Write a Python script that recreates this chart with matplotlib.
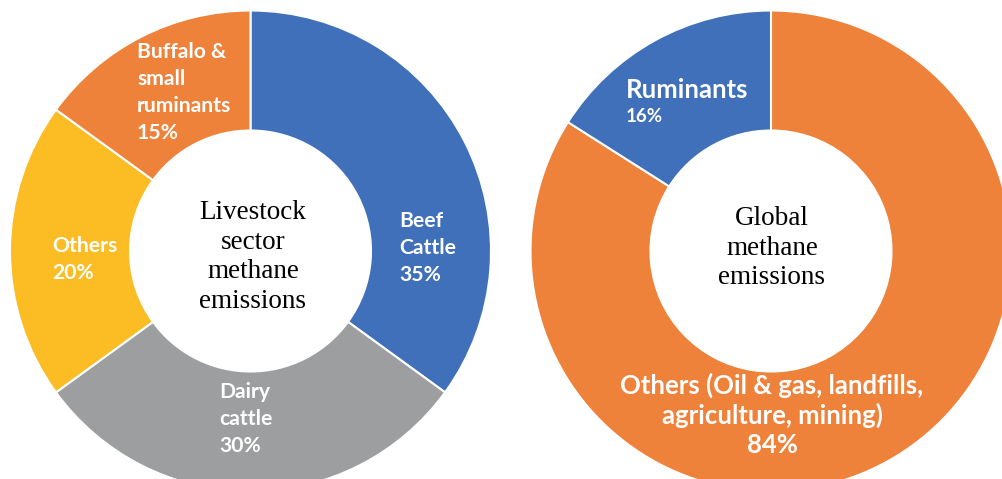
import matplotlib.pyplot as plt

# livestock sector methane emissions (left donut)
livestock_names = ['Beef\nCattle', 'Dairy\ncattle', 'Others', 'Buffalo &\nsmall\nruminants']
livestock_share = [35, 30, 20, 15]
livestock_colors = ['#3F70B9', '#9C9E9F', '#FBBC24', '#EE823B']

# global methane emissions (right donut)
global_names = ['Others (Oil & gas, landfills,\nagriculture, mining)', 'Ruminants']
global_share = [84, 16]
global_colors = ['#EE823B', '#3F70B9']

W, H = 1002, 479
fig = plt.figure(figsize=(W / 100, H / 100), dpi=100)
ax = fig.add_axes([0, 0, 1, 1])


def py(y):
    # pixel row (from top) -> data y
    return H - y


wedge = dict(width=120, edgecolor='white', linewidth=1.5)
ax.pie(livestock_share, colors=livestock_colors, startangle=90, counterclock=False,
       center=(250.5, py(251)), radius=240.5, wedgeprops=wedge)
ax.pie(global_share, colors=global_colors, startangle=90, counterclock=False,
       center=(771, py(251)), radius=240.5, wedgeprops=wedge)

ax.set_xlim(0, W)
ax.set_ylim(0, H)
ax.set_aspect('equal')
ax.axis('off')

lab = dict(color='white', fontweight='bold', family='Lato', fontsize=15.2,
           linespacing=1.44, ha='left', va='top')

# left donut labels: Beef, Dairy, Others, Buffalo
pos_left = [(399, 211), (219, 382), (52, 236), (137, 42)]
for name, v, (x, y) in zip(livestock_names, livestock_share, pos_left):
    ax.text(x, py(y), f'{name}\n{v}%', **lab)

# right donut labels
ax.text(626, py(78), global_names[1], color='white', fontweight='bold', family='Lato',
        fontsize=18.5, ha='left', va='top')
ax.text(626, py(108), f'{global_share[1]}%', color='white', fontweight='bold',
        family='Lato', fontsize=13.5, ha='left', va='top')
ax.text(772, py(373), f'{global_names[0]}\n{global_share[0]}%', color='white',
        fontweight='bold', family='Lato', fontsize=18.5, linespacing=1.22,
        ha='center', va='top')

# centre titles
ctr = dict(family='Liberation Serif', fontsize=19.5, linespacing=1.25,
           ha='center', va='center', color='black')
ax.text(253, py(257), 'Livestock\nsector\nmethane\nemissions', **ctr)
ax.text(772, py(248), 'Global\nmethane\nemissions', **ctr)

fig.savefig('out.png', dpi=100)
